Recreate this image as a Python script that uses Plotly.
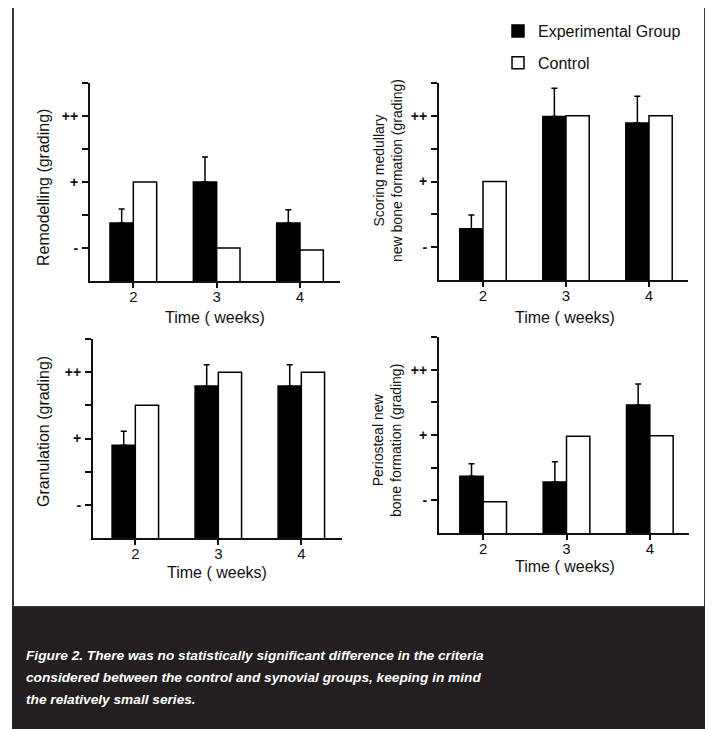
import plotly.graph_objects as go

# ---------------- data (grading scale: "-"=1, "+"=2, "++"=3) ----------------
weeks = [2, 3, 4]
x_tick_text = ["2", "3", "4"]
grade_tick_vals = [1, 1.5, 2, 2.5, 3, 3.5]
grade_tick_text = ["-", "", "+", "", "++", ""]

remodel_exp = [1.38, 2.0, 1.38]
remodel_exp_top = [1.59, 2.38, 1.58]
remodel_ctrl = [2.0, 1.0, 0.97]

medullary_exp = [1.28, 2.99, 2.89]
medullary_exp_top = [1.49, 3.42, 3.30]
medullary_ctrl = [2.0, 3.0, 3.0]

granulation_exp = [1.90, 2.79, 2.79]
granulation_exp_top = [2.11, 3.11, 3.11]
granulation_ctrl = [2.5, 3.0, 3.0]

periosteal_exp = [1.37, 1.28, 2.46]
periosteal_exp_top = [1.56, 1.59, 2.78]
periosteal_ctrl = [0.98, 1.98, 1.99]

series_names = ["Experimental Group", "Control"]
caption_lines = [
    "Figure 2. There was no statistically significant difference in the criteria",
    "considered between the control and synovial groups, keeping in mind",
    "the relatively small series.",
]

# ---------------- layout helpers ----------------
# the page body has an 8px margin, so the figure is placed at (8, 8) in the window
OX, OY = 8, 8
W, H = 705, 721
def px(x):
    return (x - OX) / W
def py(y):
    return 1 - (y - OY) / H

FONT = "Arial, Liberation Sans, Helvetica, sans-serif"
INK = "#111111"

panels = [
    # (exp, exp_top, ctrl, xbox, ybox, xrange, ytitle, ytitle_pos, xtitle_pos, ytitle_size)
    (remodel_exp, remodel_exp_top, remodel_ctrl, (90, 340), (83, 281), [1.48, 4.48],
     "Remodelling (grading)", (43, 188), (215, 317), 16),
    (medullary_exp, medullary_exp_top, medullary_ctrl, (439, 688), (83, 280), [1.47, 4.47],
     "Scoring medullary<br>new bone formation (grading)", (388, 171), (565, 317), 14),
    (granulation_exp, granulation_exp_top, granulation_ctrl, (93, 342), (339, 538), [1.49, 4.49],
     "Granulation (grading)", (43, 432), (217, 572), 16),
    (periosteal_exp, periosteal_exp_top, periosteal_ctrl, (439, 689), (337, 533), [1.47, 4.47],
     "Periosteal new<br>bone formation (grading)", (387, 441), (565, 566), 14),
]

fig = go.Figure()
annotations = []
layout_axes = {}

for i, (exp, exp_top, ctrl, xb, yb, xr, ytitle, ypos, xpos, ysize) in enumerate(panels):
    n = i + 1
    xa = "x" if n == 1 else f"x{n}"
    ya = "y" if n == 1 else f"y{n}"
    err = [t - v for t, v in zip(exp_top, exp)]
    fig.add_trace(go.Bar(
        x=weeks, y=exp, name=series_names[0], xaxis=xa, yaxis=ya,
        marker=dict(color="#000000", line=dict(color="#000000", width=1.5)),
        error_y=dict(type="data", array=err, arrayminus=[0] * len(err), symmetric=False,
                     color="#000000", thickness=1.5, width=3),
        showlegend=(n == 1), legendgroup="exp", offsetgroup="exp",
    ))
    fig.add_trace(go.Bar(
        x=weeks, y=ctrl, name=series_names[1], xaxis=xa, yaxis=ya,
        marker=dict(color="#ffffff", line=dict(color="#000000", width=1.5)),
        showlegend=(n == 1), legendgroup="ctrl", offsetgroup="ctrl",
    ))
    xkey = "xaxis" if n == 1 else f"xaxis{n}"
    ykey = "yaxis" if n == 1 else f"yaxis{n}"
    layout_axes[xkey] = dict(
        domain=[px(xb[0]), px(xb[1])], anchor=ya, range=xr,
        tickvals=weeks, ticktext=x_tick_text, ticks="outside", ticklen=5, tickwidth=1.5,
        tickcolor=INK, showline=True, linecolor=INK, linewidth=2,
        showgrid=False, zeroline=False, tickfont=dict(family=FONT, size=15, color=INK),
        ticklabelstandoff=-4, fixedrange=True,
    )
    layout_axes[ykey] = dict(
        domain=[py(yb[1]), py(yb[0])], anchor=xa, range=[0.5, 3.5],
        tickvals=grade_tick_vals, ticktext=grade_tick_text, ticks="outside", ticklen=6,
        tickwidth=1.5, tickcolor=INK, showline=True, linecolor=INK, linewidth=2,
        showgrid=False, zeroline=False,
        tickfont=dict(family=FONT, size=14, color=INK, weight="bold"),
        ticklabelstandoff=1, fixedrange=True,
    )
    annotations.append(dict(
        text="Time ( weeks)", x=px(xpos[0]), y=py(xpos[1]), xref="paper", yref="paper",
        showarrow=False, xanchor="center", yanchor="middle",
        font=dict(family=FONT, size=16, color=INK),
    ))
    annotations.append(dict(
        text=ytitle, x=px(ypos[0]), y=py(ypos[1]), xref="paper", yref="paper",
        showarrow=False, xanchor="center", yanchor="middle", textangle=-90,
        font=dict(family=FONT, size=ysize, color=INK),
    ))

for line, yc in zip(caption_lines, [655, 677, 699]):
    annotations.append(dict(
        text=line, x=px(24), y=py(yc), xref="paper", yref="paper",
        showarrow=False, xanchor="left", yanchor="middle", align="left",
        font=dict(family="Liberation Sans, Arial, sans-serif",
                  size=13.7, color="#ffffff", weight="bold", style="italic"),
    ))

shapes = [
    # white panel frame
    dict(type="rect", xref="paper", yref="paper", x0=px(13), x1=px(705), y0=py(607), y1=py(7),
         line=dict(color="#3a3a3a", width=2), fillcolor="rgba(0,0,0,0)", layer="below"),
    # caption box
    dict(type="rect", xref="paper", yref="paper", x0=px(12), x1=px(706), y0=py(729), y1=py(607),
         line=dict(width=0), fillcolor="#231f20", layer="below"),
    dict(type="rect", xref="paper", yref="paper", x0=px(706), x1=px(713), y0=py(729), y1=py(607),
         line=dict(width=0), fillcolor="#b0b0b0", layer="below"),
]

fig.update_layout(
    width=W, height=H, margin=dict(l=0, r=0, t=0, b=0, pad=0),
    paper_bgcolor="#ffffff", plot_bgcolor="rgba(0,0,0,0)",
    barmode="group", bargap=0.44, bargroupgap=0,
    showlegend=True,
    legend=dict(x=px(498), y=py(14), xanchor="left", yanchor="top",
                font=dict(family=FONT, size=16, color=INK), bgcolor="rgba(0,0,0,0)",
                tracegroupgap=8, itemclick=False, itemdoubleclick=False),
    annotations=annotations, shapes=shapes,
    **layout_axes,
)

fig.write_html("out.html")
